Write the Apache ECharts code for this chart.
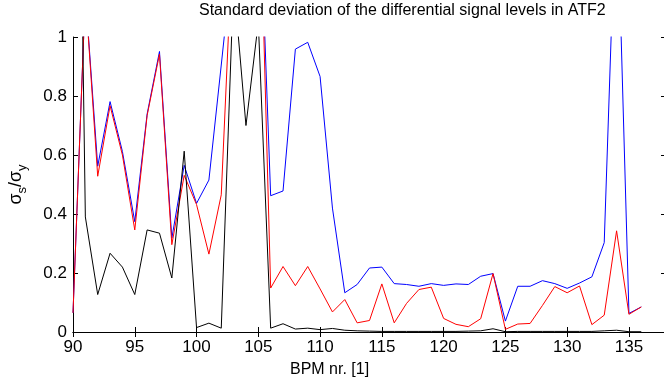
<!DOCTYPE html>
<html>
<head>
<meta charset="utf-8">
<script src="https://cdn.jsdelivr.net/npm/echarts@6/dist/echarts.min.js"></script>
<style>
  html, body { margin: 0; padding: 0; background: #fff; }
  #chart { width: 664px; height: 382px; }
</style>
</head>
<body>
<div id="chart"></div>
<script>
// BPM index
const bpm = [90, 91, 92, 93, 94, 95, 96, 97, 98, 99, 100, 101, 102, 103, 104, 105, 106, 107, 108, 109, 110, 111, 112,
  113, 114, 115, 116, 117, 118, 119, 120, 121, 122, 123, 124, 125, 126, 127, 128, 129, 130, 131, 132, 133, 134, 135, 136];

const blueVals = [0.065, 1.15, 0.562, 0.781, 0.612, 0.374, 0.739, 0.951, 0.318, 0.565, 0.436, 0.515, 0.905, 1.3, 1.5, 1.6,
  0.462, 0.478, 0.959, 0.982, 0.866, 0.42, 0.133, 0.161, 0.217, 0.220, 0.164, 0.161, 0.155, 0.164, 0.158, 0.163, 0.161,
  0.189, 0.198, 0.037, 0.155, 0.155, 0.174, 0.164, 0.148, 0.166, 0.187, 0.303, 1.55, 0.063, 0.085];

const redVals = [0.065, 1.15, 0.528, 0.767, 0.600, 0.346, 0.734, 0.942, 0.296, 0.531, 0.432, 0.264, 0.465, 1.4, 1.5, 1.7,
  0.149, 0.222, 0.157, 0.222, 0.146, 0.068, 0.110, 0.031, 0.039, 0.163, 0.031, 0.097, 0.144, 0.152, 0.046, 0.026, 0.018,
  0.045, 0.198, 0.009, 0.027, 0.029, 0.090, 0.154, 0.133, 0.156, 0.025, 0.057, 0.343, 0.060, 0.085];

const blackVals = [3.3, 0.39, 0.127, 0.267, 0.22, 0.127, 0.346, 0.335, 0.183, 0.613, 0.015, 0.030, 0.013, 1.19, 0.70, 1.05,
  0.013, 0.028, 0.010, 0.013, 0.008, 0.012, 0.006, 0.004, 0.003, 0.002, 0.002, 0.002, 0.002, 0.002, 0.002, 0.002, 0.003,
  0.004, 0.011, 0.001, 0.002, 0.002, 0.002, 0.002, 0.002, 0.002, 0.002, 0.004, 0.006, 0.001, 0.001];

const xTicks = [90, 138, 5];   // min, max, step
const yTicks = [0, 1, 0.2];

const FONT = 'Liberation Sans, Arial, Helvetica, sans-serif';

const chart = echarts.init(document.getElementById('chart'), null, {renderer: 'canvas'});

const pairs = (vals) => bpm.map((b, i) => [b, vals[i]]);

const lineSeries = (name, color, vals) => ({
  name: name,
  type: 'line',
  data: pairs(vals),
  showSymbol: false,
  symbol: 'none',
  clip: true,
  lineStyle: {color: color, width: 1},
  itemStyle: {color: color},
  animation: false
});

const xAxisBase = {
  type: 'value',
  min: xTicks[0],
  max: xTicks[1],
  interval: xTicks[2],
  axisLine: {show: true, lineStyle: {color: '#000', width: 1}},
  axisTick: {show: true, inside: true, length: 5, lineStyle: {color: '#000'}},
  splitLine: {show: false}
};

const yAxisBase = {
  type: 'value',
  min: yTicks[0],
  max: yTicks[1],
  interval: yTicks[2],
  axisLine: {show: true, lineStyle: {color: '#000', width: 1}},
  axisTick: {show: true, inside: true, length: 5, lineStyle: {color: '#000'}},
  splitLine: {show: false}
};

const option = {
  animation: false,
  backgroundColor: '#fff',
  title: {
    text: 'Standard deviation of the differential signal levels in ATF2',
    left: 199,
    top: 3,
    padding: 0,
    textStyle: {fontFamily: FONT, fontSize: 16, fontWeight: 'normal', color: '#000'}
  },
  grid: {left: 73, top: 37, width: 593, height: 295, outerBoundsMode: 'none', containLabel: false},
  xAxis: [
    Object.assign({}, xAxisBase, {
      position: 'bottom',
      axisLabel: {color: '#000', fontSize: 17, fontFamily: FONT, margin: 7, showMaxLabel: false}
    }),
    Object.assign({}, xAxisBase, {
      position: 'top',
      axisLabel: {show: false}
    })
  ],
  yAxis: [
    Object.assign({}, yAxisBase, {
      position: 'left',
      axisLabel: {color: '#000', fontSize: 17, fontFamily: FONT, margin: 6},
      name: '{m|σ}{s|s}{m|/σ}{s|y}',
      nameLocation: 'middle',
      nameRotate: 90,
      nameGap: 44,
      nameTextStyle: {
        rich: {
          m: {fontSize: 18, fontFamily: FONT, color: '#000', lineHeight: 26, verticalAlign: 'middle'},
          s: {fontSize: 13, fontFamily: FONT, color: '#000', lineHeight: 26, verticalAlign: 'bottom'}
        }
      }
    }),
    Object.assign({}, yAxisBase, {
      position: 'right',
      axisLabel: {show: false}
    })
  ],
  graphic: [
    {
      type: 'text',
      left: 290,
      top: 362,
      style: {text: 'BPM nr. [1]', fontFamily: FONT, fontSize: 16, fill: '#000'}
    }
  ],
  series: [
    lineSeries('blue', '#0000ff', blueVals),
    lineSeries('red', '#ff0000', redVals),
    lineSeries('black', '#000000', blackVals)
  ]
};

chart.setOption(option);
</script>
</body>
</html>
